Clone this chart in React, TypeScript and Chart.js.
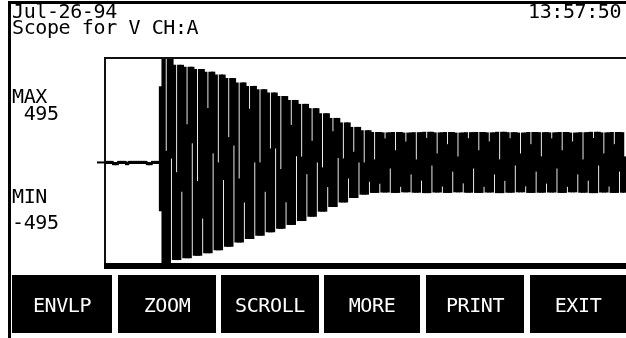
import React, { useEffect, useRef } from "react";
import { Chart, registerables } from "chart.js";

Chart.register(...registerables);

// ---- text content ----
const headerDate = "Jul-26-94";
const headerTime = "13:57:50";
const scopeTitle = "Scope for V CH:A";
const maxLabel = "MAX";
const maxValue = " 495";
const minLabel = "MIN";
const minValue = "-495";
const buttonLabels = ["ENVLP", "ZOOM", "SCROLL", "MORE", "PRINT", "EXIT"];

// ---- display columns before and at the trigger: column max / min (volts) ----
const traceHigh = [8, 8, 8, 2, 2, 8, 8, 8, 2, 8, 8, 8, 8, 8, 8, 8, 2, 2, 8, 8, 8, 390, 600, 60, 600, 600];
const traceLow = [-8, -8, -8, -14, -14, -8, -8, -8, -14, -8, -8, -8, -8, -8, -8, -8, -14, -14, -8, -8, -8, -250, -600, -600, -600, 20];

// ---- ringing after the trigger, in groups of 4 display columns ----
// peak amplitude (volts) of each group
const ringPeak = [
  500, 490, 478, 465, 450, 432, 410, 392, 375, 358,
  340, 320, 300, 278, 252, 228, 205, 182, 165, 156,
  154, 156, 153, 155, 157, 154, 156, 153, 155, 156,
  154, 157, 155, 153, 156, 155, 154, 156, 153, 155,
  157, 154, 156, 155,
];
// depth of the white slit hanging from the top (fraction of the band)
const topSlit = [
  0.55, 0.3, 0.6, 0.2, 0.5, 0.35, 0.6, 0.15, 0.5, 0.4,
  0.55, 0.2, 0.45, 0.3, 0.55, 0.15, 0.45, 0.35, 0.5, 0.45,
  0.1, 0.3, 0.15, 0.45, 0.1, 0.35, 0.2, 0.4, 0.1, 0.3,
  0.15, 0.45, 0.1, 0.35, 0.2, 0.4, 0.1, 0.3, 0.15, 0.45,
  0.1, 0.35, 0.2, 0.4,
];
// height of the white slit rising from the bottom (fraction of the band)
const bottomSlit = [
  0.35, 0.6, 0.2, 0.55, 0.4, 0.6, 0.25, 0.5, 0.3, 0.6,
  0.2, 0.55, 0.4, 0.5, 0.25, 0.55, 0.3, 0.5, 0.2, 0.15,
  0.4, 0.1, 0.3, 0.2, 0.45, 0.1, 0.35, 0.15, 0.4, 0.1,
  0.3, 0.2, 0.45, 0.1, 0.35, 0.15, 0.4, 0.1, 0.3, 0.2,
  0.45, 0.1, 0.35, 0.15,
];

const Y_MIN = -520;
const Y_MAX = 540;

const FONT = "'DejaVu Sans Mono', 'Liberation Mono', monospace";
const FS = 20;
const LS = -0.4;

function buildColumns() {
  const cols: number[][] = traceHigh.map((h, i) => [traceLow[i], h]);
  ringPeak.forEach((a, g) => {
    const t = topSlit[g];
    const b = bottomSlit[g];
    cols.push([-a, a]); // full swing
    cols.push([-a, a - 2 * a * t]); // slit from the top
    cols.push([-a, a]); // full swing
    cols.push([-a + 2 * a * b, a]); // slit from the bottom
  });
  return cols.slice(0, 200);
}

const framePlugin = {
  id: "scopeFrame",
  afterDraw(chart: any) {
    const ctx = chart.ctx as CanvasRenderingContext2D;
    const W = chart.width;
    const H = chart.height;
    ctx.save();
    ctx.fillStyle = "#000";
    // outer frame
    ctx.fillRect(8, 1, W - 8, 3);
    ctx.fillRect(8, 1, 3, H - 1);
    // plot box
    ctx.fillStyle = "#111";
    ctx.fillRect(104, 57, W - 104, 2);
    ctx.fillRect(104, 57, 2, 269 - 57);
    ctx.fillStyle = "#000";
    ctx.fillRect(104, 263, W - 104, 6);
    // zero marker to the left of the box
    const y0 = chart.scales.y.getPixelForValue(0);
    ctx.fillRect(97, y0 - 1, 9, 2);
    ctx.restore();
  },
};

function Txt(props: { x: number; baseline: number; text: string; color?: string }) {
  return (
    <div
      style={{
        position: "absolute",
        left: props.x,
        top: props.baseline - 0.846 * FS,
        fontFamily: FONT,
        fontSize: FS,
        lineHeight: FS + "px",
        letterSpacing: LS + "px",
        whiteSpace: "pre",
        color: props.color || "#000",
      }}
    >
      {props.text}
    </div>
  );
}

const buttonBoxes = [
  [12, 112],
  [118, 216],
  [221, 319],
  [324, 420],
  [426, 524],
  [530, 626],
];

export default function App() {
  const canvasRef = useRef<HTMLCanvasElement | null>(null);

  useEffect(() => {
    const canvas = canvasRef.current;
    if (!canvas) return;
    const cols = buildColumns();
    const labels = cols.map((_, i) => String(i));
    const chart = new Chart(canvas, {
      type: "bar",
      data: {
        labels,
        datasets: [
          {
            data: cols as any,
            backgroundColor: "#000",
            borderWidth: 0,
            barPercentage: 1.65,
            categoryPercentage: 1,
            grouped: false,
            clip: 0,
          } as any,
        ],
      },
      options: {
        animation: false,
        responsive: false,
        maintainAspectRatio: false,
        devicePixelRatio: 1,
        layout: { padding: { left: 105, top: 57, right: 0, bottom: 338 - 264 } },
        plugins: {
          legend: { display: false },
          tooltip: { enabled: false },
          title: { display: false },
        },
        scales: {
          x: { display: false, offset: true },
          y: { display: false, min: Y_MIN, max: Y_MAX },
        },
      },
      plugins: [framePlugin],
    });
    return () => chart.destroy();
  }, []);

  return (
    <div
      style={{
        position: "absolute",
        left: 0,
        top: 0,
        width: 626,
        height: 338,
        background: "#fff",
        overflow: "hidden",
      }}
    >
      <canvas
        ref={canvasRef}
        width={626}
        height={338}
        style={{ position: "absolute", left: 0, top: 0, width: 626, height: 338 }}
      />
      <Txt x={12} baseline={18} text={headerDate} />
      <Txt x={528} baseline={18} text={headerTime} />
      <Txt x={12} baseline={34} text={scopeTitle} />
      <Txt x={12} baseline={103} text={maxLabel} />
      <Txt x={12} baseline={120} text={maxValue} />
      <Txt x={12} baseline={203} text={minLabel} />
      <Txt x={12} baseline={229} text={minValue} />
      {buttonBoxes.map(([x0, x1], i) => (
        <div
          key={i}
          style={{
            position: "absolute",
            left: x0,
            top: 275,
            width: x1 - x0,
            height: 58,
            background: "#000",
          }}
        >
          <div
            style={{
              position: "absolute",
              left: 0,
              width: "100%",
              top: 312 - 275 - 0.846 * FS,
              textAlign: "center",
              fontFamily: FONT,
              fontSize: FS,
              lineHeight: FS + "px",
              letterSpacing: LS + "px",
              whiteSpace: "pre",
              color: "#fff",
            }}
          >
            {buttonLabels[i]}
          </div>
        </div>
      ))}
    </div>
  );
}
